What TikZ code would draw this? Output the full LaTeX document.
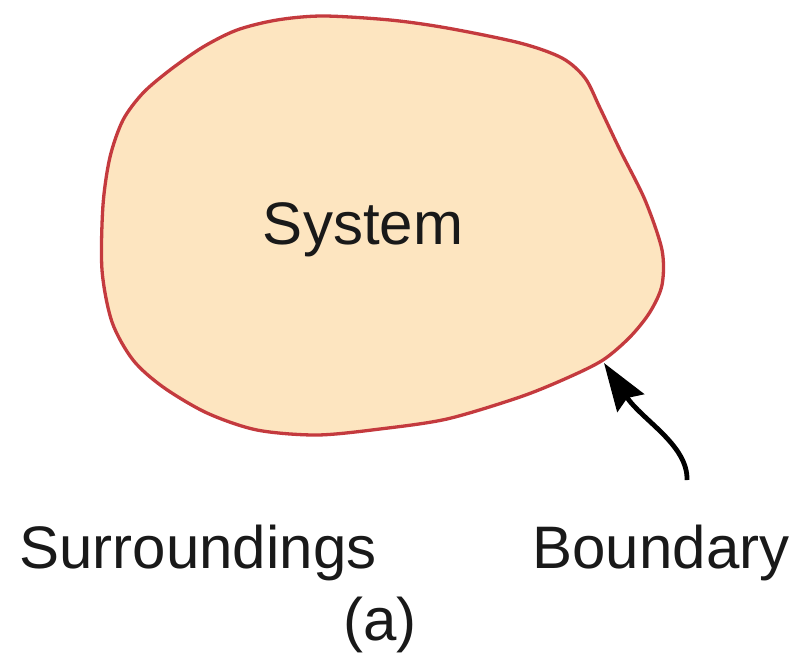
\documentclass[tikz,border=0pt]{standalone}
\usepackage{fontspec}
\setmainfont{Liberation Sans}
\usetikzlibrary{arrows.meta}
\definecolor{blobfill}{HTML}{FDE5C0}
\definecolor{blobline}{HTML}{C43A3E}
\tikzset{
  lbl/.style={anchor=base,inner sep=0pt,font=\fontsize{60}{62}\selectfont,text=black!90},
  blob/.style={fill=blobfill,draw=blobline,line width=3.3pt},
  pointer/.style={line width=4.8pt,-{Stealth[length=48pt,width=32pt,inset=6pt]}}
}
\begin{document}
\begin{tikzpicture}[x=1pt,y=-1pt]
\useasboundingbox (0,0) rectangle (802,666);
\draw[blob] plot[smooth cycle,tension=0.5] coordinates {
 (323,16) (390,20) (447,28) (520,43) (562,58) (585,78) (600,108) (620,150)
 (645,200) (662,250) (662,285) (650,312) (630,337) (603,360) (567,378)
 (520,397) (447,419) (380,429) (317,435) (257,430) (207,413) (163,387)
 (133,360) (112,322) (102,270) (103,205) (110,157) (123,120) (143,93)
 (170,70) (203,47) (237,30) (277,20)};
\node[lbl] (sys) at (363,244) {System};
\node[lbl] (sur) at (198,568) {Surroundings};
\node[lbl] (bnd) at (661,568) {Boundary};
\node[lbl] (cap) at (380,640) {(a)};
\coordinate (tail) at (687,480);
\coordinate (tip) at (604,363);
\draw[pointer] (tail) .. controls (688,445) and (642,420) .. (tip);
\end{tikzpicture}
\end{document}
